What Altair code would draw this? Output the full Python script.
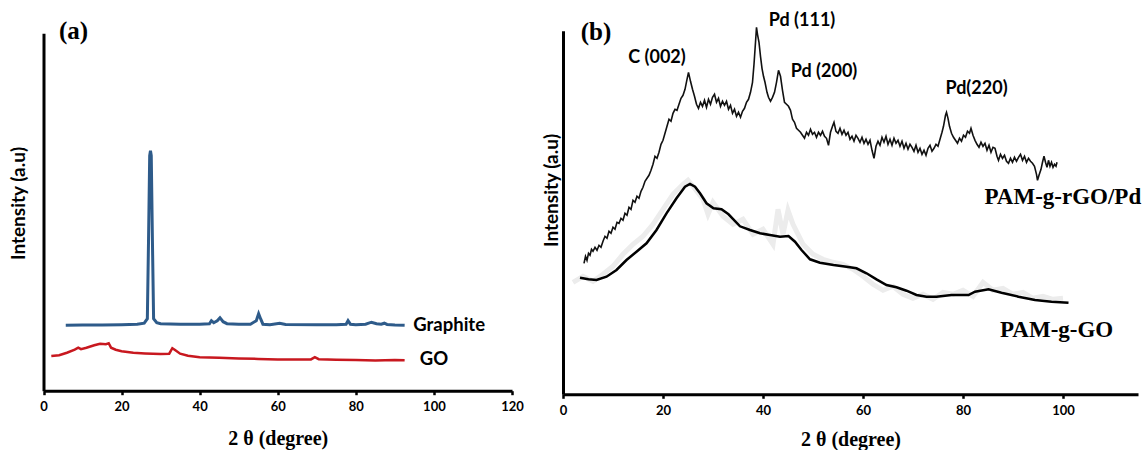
import altair as alt
import pandas as pd

# ---------------- Panel (a): Graphite and GO ----------------
graphite_x = [5.7, 10, 15, 20, 24, 25.8, 26.6, 26.9, 27.2, 27.4, 27.6, 27.9, 28.2, 29, 30, 35, 40,
              42.5, 43, 43.6, 44.5, 45.2, 46, 47, 50, 53, 54.5, 55.1, 55.6, 56.2, 58, 60.5, 62,
              70, 75, 77.5, 78, 78.6, 80, 82.5, 84, 85.3, 86.5, 87.3, 88, 90, 92.5]
graphite_y = [65.5, 65.7, 65.8, 66, 66.5, 67.5, 72, 150, 235, 240, 235, 150, 72, 68, 67, 66.5, 66.5,
              67, 70, 68, 70, 73, 69, 67, 66.5, 66.5, 70, 77, 72, 66.5, 66, 67.5, 66.3,
              66, 66, 66.5, 70, 66.5, 66, 66.5, 68.5, 67, 66.5, 67.5, 66.3, 65.8, 65.5]

go_x = [2.0, 4, 6, 8, 8.9, 9.6, 11, 13, 14.5, 16, 16.7, 17.3, 18.5, 20, 23, 26, 30, 32.2, 33.0,
        33.6, 35, 37, 40, 45, 50, 55, 60, 65, 68.5, 69.5, 70.5, 75, 80, 85, 90, 92.5]
go_y = [34.7, 35.5, 38, 41, 43, 41.5, 43, 45.5, 47, 46.5, 47.5, 43, 41, 39.5, 38, 37.3, 36.7, 37, 42.5,
        41, 37, 35, 33.5, 33, 32.3, 31.8, 31.3, 31.2, 31.3, 33.5, 31.5, 31, 30.7, 30.3, 30.6, 30.5]

a_label_text = ["Graphite", "GO"]
a_label_x = [94.7, 96.4]
a_label_y = [65.7, 31.7]

# ---------------- Panel (b): PAM-g-rGO/Pd and PAM-g-GO ----------------
pd_x = [4.2, 4.5, 4.8, 5.1, 5.4, 5.7, 6.0, 6.4, 6.8, 7.2, 7.6, 8.0, 8.4, 8.8, 9.2, 9.6, 10.0, 10.4,
        10.8, 11.2, 11.6, 12.0, 12.4, 12.8, 13.2, 13.6, 14.0, 14.4, 14.8, 15.2, 15.6, 16.0, 16.4,
        16.8, 17.2, 17.6, 18.0, 18.4, 18.8, 19.2, 19.6, 20.0, 20.4, 20.8, 21.2, 21.6, 22.0, 22.4,
        22.8, 23.2, 23.6, 24.0, 24.4, 24.8, 25.1, 25.5, 25.9, 26.3, 26.7, 27.1, 27.5, 27.9, 28.3,
        28.7, 29.1, 29.5, 29.9, 30.3, 30.7, 31.1, 31.5, 31.9, 32.3, 32.7, 33.1, 33.5, 33.9, 34.3,
        34.7, 35.1, 35.5, 35.9, 36.3, 36.7, 37.1, 37.5, 37.9, 38.2, 38.5, 38.7, 38.9, 39.2, 39.5,
        39.8, 40.1, 40.4, 40.8, 41.1, 41.5, 41.9, 42.3, 42.7, 43.1, 43.5, 43.9, 44.3, 44.7, 45.1,
        45.5, 45.9, 46.3, 46.7, 47.1, 47.5, 47.9, 48.3, 48.7, 49.1, 49.5, 49.9, 50.3, 50.7, 51.1,
        51.5, 51.9, 52.3, 52.7, 53.1, 53.5, 53.9, 54.2, 54.6, 55.0, 55.4, 55.8, 56.2, 56.6, 57.0,
        57.4, 57.8, 58.2, 58.6, 59.0, 59.4, 59.8, 60.2, 60.6, 61.0, 61.4, 61.8, 62.2, 62.6, 63.0,
        63.4, 63.8, 64.2, 64.6, 65.0, 65.4, 65.8, 66.2, 66.6, 67.0, 67.4, 67.8, 68.2, 68.6, 69.0,
        69.4, 69.8, 70.2, 70.6, 71.0, 71.4, 71.8, 72.2, 72.6, 73.0, 73.4, 73.8, 74.2, 74.6, 75.0,
        75.4, 75.8, 76.1, 76.5, 76.7, 77.0, 77.3, 77.7, 78.1, 78.5, 78.9, 79.3, 79.7, 80.1, 80.5,
        80.9, 81.3, 81.6, 82.0, 82.4, 82.8, 83.2, 83.6, 84.0, 84.4, 84.8, 85.2, 85.6, 86.0, 86.4,
        86.8, 87.1, 87.5, 87.9, 88.3, 88.7, 89.1, 89.5, 89.9, 90.3, 90.7, 91.1, 91.5, 91.9, 92.3,
        92.7, 93.1, 93.5, 93.9, 94.3, 94.7, 94.9, 95.2, 95.6, 95.9, 96.2, 96.5, 96.8, 97.1, 97.4,
        97.7, 98.0, 98.3, 98.6, 98.8]
pd_y = [131, 138, 134, 141, 139, 145, 143, 147, 144, 149, 147, 153, 158, 156, 163, 161, 167, 165,
        172, 171, 176, 174, 181, 179, 187, 185, 194, 192, 198, 196, 203, 207, 213,
        216, 219, 224, 230, 238, 236, 242, 250, 254, 261, 268, 275, 273, 281, 285,
        284, 290, 296, 299, 305, 315, 322, 313, 305, 298, 290, 286, 292, 288, 294,
        287, 295, 290, 297, 300, 292, 296, 288, 293, 289, 293, 285, 289, 281, 285,
        278, 282, 277, 283, 286, 292, 295, 302, 312, 330, 352, 367, 360, 352, 338,
        326, 318, 312, 302, 297, 293, 297, 302, 312, 324, 318, 304, 292, 290, 288,
        284, 275, 272, 266, 264, 262, 259, 256, 262, 259, 265, 260, 262, 257, 262,
        259, 263, 258, 256, 249, 262, 268, 272, 263, 261, 266, 260, 264, 259, 262,
        255, 258, 253, 259, 256, 252, 257, 251, 255, 250, 254, 244, 236, 248, 253,
        249, 257, 252, 258, 250, 255, 249, 256, 251, 254, 248, 253, 246, 251, 245,
        250, 247, 243, 249, 242, 246, 240, 244, 239, 246, 249, 243, 246, 250, 248,
        255, 262, 268, 279, 282, 276, 268, 261, 257, 254, 251, 256, 253, 259, 257,
        263, 261, 266, 259, 254, 250, 247, 252, 248, 251, 244, 249, 242, 247, 246,
        238, 234, 240, 236, 239, 233, 231, 236, 232, 237, 233, 237, 240, 234, 238,
        232, 236, 233, 231, 228, 220, 214, 219, 225, 232, 238, 232, 227, 234, 228,
        232, 227, 230, 228, 232]

pamgo_x = [3.4, 5.1, 6.7, 8.7, 10.7, 12.7, 14.7, 16.7, 18.7, 20.7, 22.7, 24.4, 25.4, 26.4, 27.4,
           28.7, 30.1, 31.7, 33.1, 35.4, 37.4, 39.4, 41.4, 43.4, 45.1, 46.4, 47.7, 49.4, 51.4,
           54.1, 56.7, 58.7, 60.7, 62.7, 64.7, 66.7, 68.7, 70.7, 72.7, 74.7, 77.7, 81.1, 82.4,
           85.1, 87.7, 91.1, 94.4, 97.7, 101.1]
pamgo_y = [116.6, 115, 114.3, 117.6, 124.3, 134.3, 142.6, 151, 164.3, 181, 196, 207.6, 210.3, 207.6,
           201, 191, 186, 185, 180, 168, 164.3, 161, 159.3, 157.6, 158.3, 152.6, 144.3, 135, 131.6,
           129.3, 127.6, 126, 121, 115, 109.3, 107, 103.6, 99.3, 97.6, 97.6, 99.3, 99.3, 102.6,
           105, 101.6, 97.6, 94.3, 92.6, 91.6]

ghost_x = [2, 4, 6, 8, 10, 12, 14, 16, 18, 20, 22, 24, 25, 26, 28, 29, 30, 32, 34, 36, 38, 40, 42,
           43, 44, 45, 46, 48, 50, 52, 54, 56, 58, 60, 62, 64, 66, 68, 70, 72, 74, 76, 78, 80, 82,
           84, 86, 88, 90, 92, 94, 96, 98, 100]
ghost_y = [112, 118, 113, 120, 128, 140, 150, 158, 170, 185, 200, 210, 214, 208, 195, 180, 192, 178,
           170, 175, 160, 165, 150, 185, 160, 184, 170, 150, 140, 135, 132, 130, 125, 118, 110, 104,
           108, 100, 96, 100, 95, 102, 100, 104, 98, 112, 104, 106, 100, 102, 96, 98, 95, 96]

b_peak_text = ["C (002)", "Pd (111)", "Pd (200)", "Pd(220)"]
b_peak_x = [18.8, 47.8, 52.2, 82.7]
b_peak_y = [336, 373.6, 322.6, 305]

b_name_text = ["PAM-g-rGO/Pd", "PAM-g-GO"]
b_name_x = [84.3, 87.4]
b_name_y = [197.6, 64.3]

panel_text = ["(a)", "(b)"]

# ---------------- Layout constants ----------------
W, H = 1145, 450
A_X0, A_X1, A_Y0, A_Y1 = 43.5, 512, 390.7, 33.3
B_X0, B_X1, B_Y0, B_Y1 = 563, 1138, 394.3, 30.7

SANS = "Lato"
SERIF = "Liberation Serif"


def x_axis(offset, values, title_y):
    return alt.Axis(orient="bottom", offset=offset, values=values, grid=False,
                    domainColor="black", domainWidth=3, tickColor="black", tickWidth=2.5,
                    tickSize=4, labelFont=SANS, labelFontSize=13, labelFontWeight="bold",
                    labelColor="black", labelPadding=6, labelFlush=False, labelOverlap=False,
                    title="2 θ (degree)", titleFont=SERIF, titleFontSize=20,
                    titleFontWeight="bold", titleColor="black", titleY=title_y,
                    titleBaseline="middle")


def y_axis(offset, title_x, title_y):
    return alt.Axis(orient="left", offset=offset, labels=False, ticks=False, grid=False,
                    domainColor="black", domainWidth=3, title="Intensity (a.u)",
                    titleFont=SANS, titleFontSize=19, titleFontWeight="bold", titleColor="black",
                    titleX=title_x, titleY=title_y, titleAngle=270, titleBaseline="middle",
                    titleAlign="center")


XA = alt.X("x:Q", scale=alt.Scale(domain=[0, 120], range=[A_X0, A_X1], nice=False, zero=False),
           axis=x_axis(A_Y0 - H, [0, 20, 40, 60, 80, 100, 120], 48))
YA = alt.Y("y:Q", scale=alt.Scale(domain=[0, A_Y0 - A_Y1], range=[A_Y0, A_Y1], nice=False),
           axis=y_axis(-A_X0, 18.3 - A_X0, 203))
XB = alt.X("x:Q", scale=alt.Scale(domain=[0, 115], range=[B_X0, B_X1], nice=False, zero=False),
           axis=x_axis(B_Y0 - H, [0, 20, 40, 60, 80, 100], 45))
YB = alt.Y("y:Q", scale=alt.Scale(domain=[0, B_Y0 - B_Y1], range=[B_Y0, B_Y1], nice=False),
           axis=y_axis(-B_X0, 551.7 - B_X0, 190))

df_graphite = pd.DataFrame({"x": graphite_x, "y": graphite_y})
df_go = pd.DataFrame({"x": go_x, "y": go_y})
df_a_lab = pd.DataFrame({"x": a_label_x, "y": a_label_y, "t": a_label_text})
df_a_panel = pd.DataFrame({"x": [7.7], "y": [A_Y0 - 31], "t": [panel_text[0]]})

layer_a = alt.layer(
    alt.Chart(df_graphite).mark_line(color="#2e5b8a", strokeWidth=3).encode(x=XA, y=YA),
    alt.Chart(df_go).mark_line(color="#c8181f", strokeWidth=2.5).encode(x=XA, y=YA),
    alt.Chart(df_a_lab).mark_text(font=SANS, fontSize=18.5, fontWeight="bold", align="left",
                                   baseline="middle", color="black").encode(x=XA, y=YA, text="t:N"),
    alt.Chart(df_a_panel).mark_text(font=SERIF, fontSize=25, fontWeight="bold", align="center",
                                     baseline="middle", color="black").encode(x=XA, y=YA, text="t:N"),
)

df_pd = pd.DataFrame({"x": pd_x, "y": pd_y})
df_pamgo = pd.DataFrame({"x": pamgo_x, "y": pamgo_y})
df_ghost = pd.DataFrame({"x": ghost_x, "y": ghost_y})
df_b_peak = pd.DataFrame({"x": b_peak_x, "y": b_peak_y, "t": b_peak_text})
df_b_name = pd.DataFrame({"x": b_name_x, "y": b_name_y, "t": b_name_text})
df_b_panel = pd.DataFrame({"x": [6.6], "y": [B_Y0 - 31.5], "t": [panel_text[1]]})

layer_b = alt.layer(
    alt.Chart(df_ghost).mark_line(color="#ececec", strokeWidth=5).encode(x=XB, y=YB),
    alt.Chart(df_pamgo).mark_line(color="black", strokeWidth=2.5).encode(x=XB, y=YB),
    alt.Chart(df_pd).mark_line(color="#111111", strokeWidth=1.6).encode(x=XB, y=YB),
    alt.Chart(df_b_peak).mark_text(font=SANS, fontSize=18, fontWeight="bold", align="center",
                                    baseline="middle", color="black").encode(x=XB, y=YB, text="t:N"),
    alt.Chart(df_b_name).mark_text(font=SERIF, fontSize=23, fontWeight="bold", align="left",
                                    baseline="middle", color="black").encode(x=XB, y=YB, text="t:N"),
    alt.Chart(df_b_panel).mark_text(font=SERIF, fontSize=25, fontWeight="bold", align="center",
                                     baseline="middle", color="black").encode(x=XB, y=YB, text="t:N"),
)

chart = alt.layer(layer_a, layer_b).resolve_scale(
    x="independent", y="independent"
).resolve_axis(
    x="independent", y="independent"
).properties(
    width=W, height=H, padding=0, autosize=alt.AutoSizeParams(type="none"), background="white"
).configure_view(stroke=None)

chart.save("out.html", embed_options={"renderer": "svg", "actions": False})
